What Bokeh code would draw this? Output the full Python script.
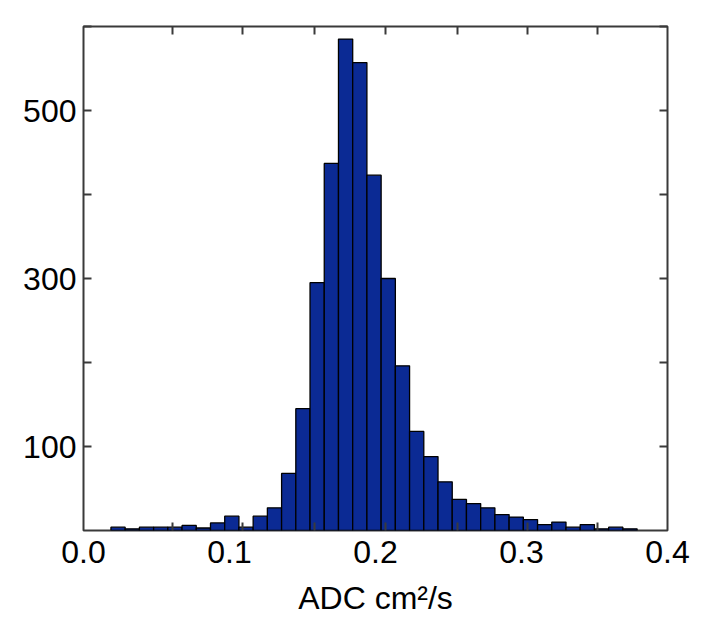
from bokeh.plotting import figure
from bokeh.models import FixedTicker, LinearAxis, Range1d
from bokeh.embed import file_html
from bokeh.resources import INLINE

# Histogram data
bin_start = 0.0188
bin_width = 0.00974
counts = [4, 2, 4, 4, 4, 6, 3, 9, 17, 4, 17, 27, 68, 145, 295, 437, 585, 557,
          423, 300, 196, 118, 88, 58, 37, 32, 27, 19, 16, 13, 7, 10, 4, 7, 2, 4, 2]

x_label_ticks = [0.0, 0.1, 0.2, 0.3, 0.4]
x_minor_ticks = [0.061, 0.109, 0.158, 0.207, 0.256, 0.304, 0.352]
y_label_ticks = [100, 300, 500]
y_minor_ticks = [200, 400, 600]
x_title = "ADC cm\u00b2/s"

lefts = [bin_start + i * bin_width for i in range(len(counts))]
rights = [l + bin_width for l in lefts]

FONT = "Liberation Sans"
FRAME = "#3a3a3a"

p = figure(width=700, height=630, output_backend="svg", toolbar_location=None,
           x_range=Range1d(0, 0.4), y_range=Range1d(0, 600),
           x_axis_location=None, y_axis_location=None,
           min_border_left=83, min_border_right=33, min_border_top=26, min_border_bottom=100)
p.grid.visible = False
p.outline_line_color = FRAME
p.outline_line_width = 2
p.background_fill_color = "white"
p.border_fill_color = "white"

p.quad(left=lefts, right=rights, bottom=0, top=counts,
       fill_color="#0b2a94", line_color="black", line_width=1.3)


def style(ax, show_labels):
    ax.axis_line_color = None
    ax.major_tick_in = 8
    ax.major_tick_out = 0
    ax.minor_tick_in = 8
    ax.minor_tick_out = 0
    ax.major_tick_line_color = FRAME
    ax.minor_tick_line_color = FRAME
    ax.major_tick_line_width = 2
    ax.minor_tick_line_width = 2
    if show_labels:
        ax.major_label_text_font = FONT
        ax.major_label_text_font_size = "32px"
        ax.major_label_text_color = "black"
    else:
        ax.major_label_text_color = None
        ax.major_label_text_font_size = "1px"
        ax.major_label_standoff = 0


xt = FixedTicker(ticks=x_label_ticks, minor_ticks=x_minor_ticks)
yt = FixedTicker(ticks=y_label_ticks, minor_ticks=y_minor_ticks)

bottom = LinearAxis(ticker=xt, axis_label=x_title)
style(bottom, True)
bottom.major_tick_in = 0
bottom.major_label_standoff = 10
bottom.major_label_overrides = {0.0: "0.0", 0.1: "0.1", 0.2: "0.2", 0.3: "0.3", 0.4: "0.4"}
bottom.axis_label_text_font = FONT
bottom.axis_label_text_font_size = "32px"
bottom.axis_label_text_font_style = "normal"
bottom.axis_label_text_color = "black"
bottom.axis_label_standoff = 14
p.add_layout(bottom, "below")

top = LinearAxis(ticker=xt)
style(top, False)
top.major_tick_in = 0
p.add_layout(top, "above")

left = LinearAxis(ticker=yt)
style(left, True)
left.major_label_standoff = 7
p.add_layout(left, "left")

right = LinearAxis(ticker=yt)
style(right, False)
p.add_layout(right, "right")

open("out.html", "w").write(file_html(p, INLINE))
